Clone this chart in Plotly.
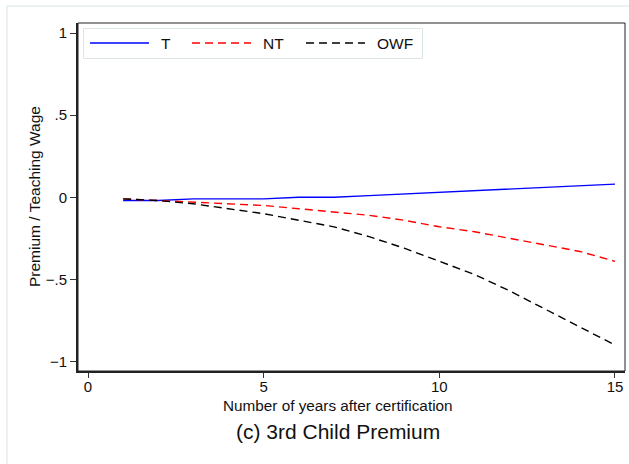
import plotly.graph_objects as go

years = list(range(1, 16))
t_vals = [-0.02, -0.02, -0.01, -0.01, -0.01, 0.0, 0.0, 0.01, 0.02, 0.03, 0.04, 0.05, 0.06, 0.07, 0.08]
nt_vals = [-0.01, -0.02, -0.03, -0.04, -0.05, -0.07, -0.09, -0.11, -0.14, -0.18, -0.21, -0.25, -0.29, -0.33, -0.39]
owf_vals = [-0.01, -0.02, -0.04, -0.07, -0.10, -0.14, -0.18, -0.24, -0.31, -0.39, -0.47, -0.57, -0.68, -0.79, -0.90]

series_names = ["T", "NT", "OWF"]
series_colors = ["#0000ff", "#ff0000", "#000000"]
series_dash = ["solid", "8px,5px", "8px,5px"]

x_ticks = [0, 5, 10, 15]
y_ticks = [1, 0.5, 0, -0.5, -1]
y_ticktext = ["1", ".5", "0", "\u2212.5", "\u22121"]

font = "Liberation Sans, Arial, sans-serif"

W, H = 629, 464
L, R, T, B = 78, 4, 23, 93
PW, PH = W - L - R, H - T - B


def px(x):
    return (x - L) / PW


def py(y):
    return (H - B - y) / PH


fig = go.Figure()
for name, vals, col, dash in zip(series_names, [t_vals, nt_vals, owf_vals], series_colors, series_dash):
    fig.add_trace(go.Scatter(x=years, y=vals, mode="lines", name=name, showlegend=False,
                             line=dict(color=col, width=1.4, dash=dash)))

shapes = [
    dict(type="rect", xref="paper", yref="paper", x0=0, x1=1, y0=0, y1=1,
         line=dict(color="#222222", width=1), layer="above"),
    dict(type="rect", xref="paper", yref="paper",
         x0=px(7), x1=px(660), y0=py(470), y1=py(6),
         line=dict(color="#e6eeee", width=1.5), layer="below"),
    # legend box
    dict(type="rect", xref="paper", yref="paper",
         x0=px(83.5), x1=px(422.5), y0=py(58.5), y1=py(28.5),
         line=dict(color="#dde6e6", width=1), fillcolor="white", layer="above"),
]
annotations = []
key_starts = [90, 192, 306]
for name, col, dash, x0 in zip(series_names, series_colors, series_dash, key_starts):
    shapes.append(dict(type="line", xref="paper", yref="paper",
                       x0=px(x0), x1=px(x0 + 59), y0=py(43), y1=py(43),
                       line=dict(color=col, width=1.4, dash=dash), layer="above"))
    annotations.append(dict(text=name, xref="paper", yref="paper", x=px(x0 + 69), y=py(43),
                            xanchor="left", yanchor="middle", showarrow=False,
                            font=dict(size=15.5, color="#111111")))

annotations.append(dict(text="Number of years after certification", xref="paper", yref="paper",
                        x=px(338), y=py(405.5), xanchor="center", yanchor="middle",
                        showarrow=False, font=dict(size=15.3, color="#111111")))
annotations.append(dict(text="Premium / Teaching Wage", xref="paper", yref="paper",
                        x=px(34.5), y=py(196.5), xanchor="center", yanchor="middle",
                        textangle=-90, showarrow=False, font=dict(size=15.5, color="#111111")))
annotations.append(dict(text="(c) 3rd Child Premium", xref="paper", yref="paper",
                        x=px(338), y=py(431), xanchor="center", yanchor="middle",
                        showarrow=False, font=dict(size=21, color="#111111")))

fig.update_layout(
    width=W, height=H,
    margin=dict(l=L, r=R, t=T, b=B),
    paper_bgcolor="white", plot_bgcolor="white",
    font=dict(family=font, size=15, color="#111111"),
    showlegend=False,
    xaxis=dict(range=[-0.285, 15.285], tickvals=x_ticks, ticks="outside", ticklen=5,
               tickcolor="#333333", showline=True, linecolor="#222222", linewidth=1.8,
               showgrid=False, zeroline=False, tickfont=dict(size=15),
               ticklabelstandoff=-4),
    yaxis=dict(range=[-1.058, 1.061], tickvals=y_ticks, ticktext=y_ticktext, ticks="outside",
               ticklen=6, tickcolor="#333333", showline=True, linecolor="#222222", linewidth=1.8,
               showgrid=False, zeroline=False, tickfont=dict(size=15)),
    annotations=annotations,
    shapes=shapes,
)

fig.write_html("out.html")
